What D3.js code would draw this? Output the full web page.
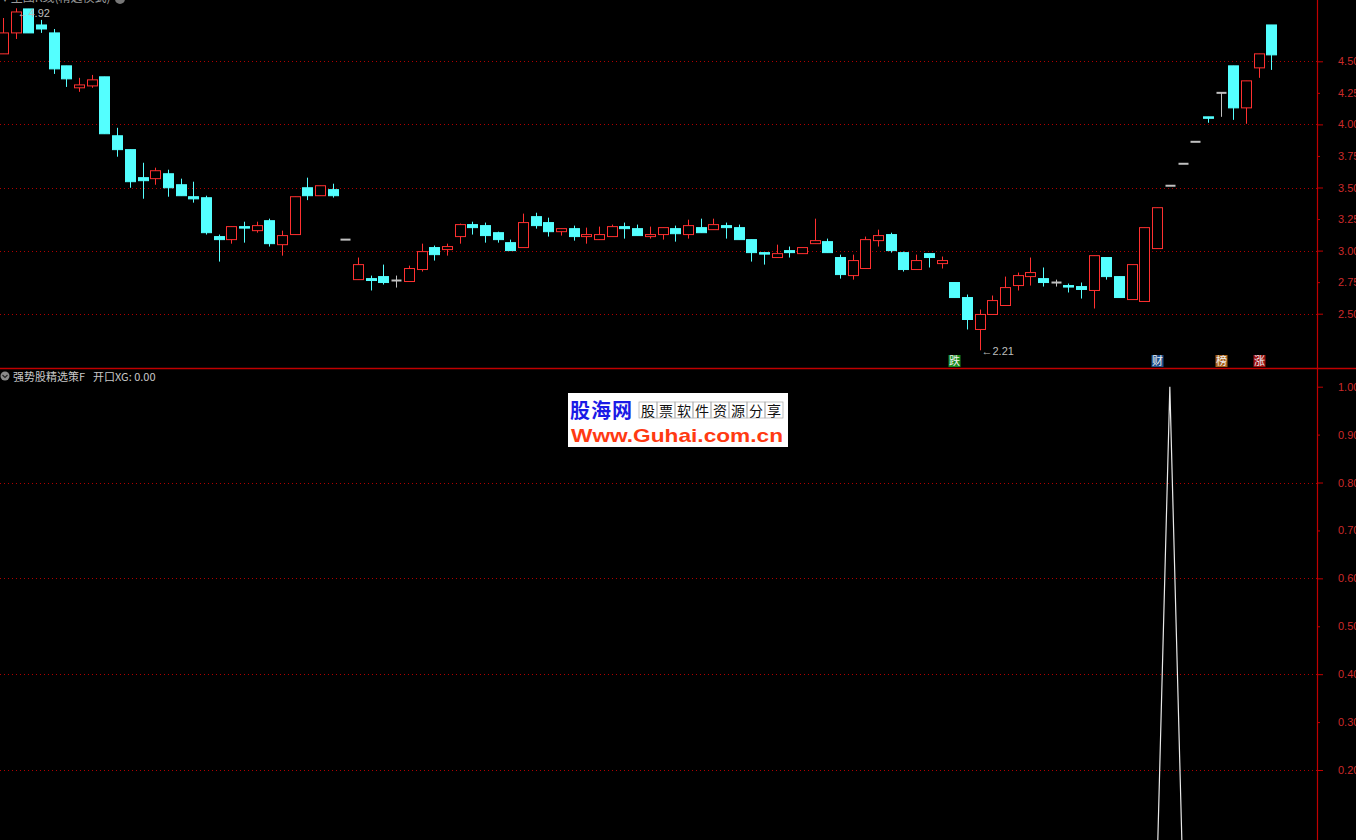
<!DOCTYPE html>
<html><head><meta charset="utf-8">
<script src="https://cdn.jsdelivr.net/npm/d3@7"></script>
<style>html,body{margin:0;padding:0;background:#000;overflow:hidden}svg{display:block}</style>
</head><body>
<script>
// ---- data ----
const openP  = [4.559,4.725,4.915,4.788,4.725,4.464,4.29,4.305,4.377,3.91,3.80,3.578,3.57,3.609,3.522,3.427,3.419,3.111,3.087,3.19,3.158,3.237,3.047,3.127,3.498,3.435,3.483,3.087,2.77,2.778,2.794,2.763,2.755,2.85,3.024,3.008,3.111,3.206,3.198,3.142,3.063,3.024,3.269,3.222,3.15,3.174,3.111,3.087,3.111,3.19,3.174,3.111,3.127,3.174,3.127,3.182,3.166,3.198,3.182,3.087,2.984,2.945,3.0,2.976,3.055,3.071,2.945,2.802,2.858,3.079,3.127,2.984,2.85,2.976,2.897,2.747,2.628,2.375,2.494,2.565,2.723,2.794,2.778,2.747,2.723,2.715,2.684,2.945,2.794,2.612,2.597,3.016,3.514,3.688,3.862,4.06,4.25,4.464,4.131,4.448,4.788];
const highP  = [4.843,4.92,4.915,4.828,4.756,4.464,4.369,4.392,4.377,3.973,3.80,3.696,3.657,3.641,3.57,3.546,3.435,3.127,3.19,3.229,3.229,3.253,3.158,3.427,3.578,3.514,3.53,3.087,2.945,2.802,2.889,2.802,2.881,3.055,3.04,3.055,3.214,3.229,3.222,3.15,3.087,3.293,3.30,3.261,3.174,3.198,3.182,3.19,3.206,3.222,3.206,3.19,3.182,3.198,3.245,3.253,3.253,3.222,3.206,3.087,2.984,3.047,3.032,3.024,3.253,3.095,2.968,2.968,3.111,3.166,3.142,2.992,2.968,2.976,2.953,2.747,2.652,2.533,2.644,2.794,2.826,2.945,2.866,2.77,2.739,2.747,2.96,2.945,2.794,2.889,3.182,3.34,3.514,3.688,3.862,4.06,4.25,4.464,4.345,4.559,4.788];
const lowP   = [4.559,4.677,4.725,4.725,4.40,4.297,4.258,4.29,3.926,3.744,3.498,3.411,3.522,3.427,3.435,3.38,3.127,2.913,3.055,3.063,3.142,3.032,2.96,3.127,3.40,3.435,3.42,3.087,2.77,2.684,2.731,2.707,2.755,2.834,2.921,2.96,3.055,3.127,3.063,3.063,3.0,3.024,3.174,3.111,3.119,3.079,3.055,3.087,3.111,3.095,3.119,3.095,3.087,3.071,3.095,3.142,3.166,3.095,3.087,2.913,2.889,2.945,2.945,2.976,3.055,2.984,2.778,2.77,2.858,3.032,2.984,2.834,2.85,2.866,2.858,2.628,2.375,2.21,2.494,2.565,2.684,2.723,2.715,2.715,2.668,2.62,2.541,2.77,2.628,2.612,2.597,3.016,3.514,3.688,3.862,4.013,4.06,4.036,4.005,4.369,4.432];
const closeP = [4.725,4.891,4.725,4.756,4.44,4.361,4.313,4.353,3.926,3.80,3.546,3.554,3.633,3.498,3.435,3.41,3.142,3.087,3.19,3.182,3.198,3.055,3.119,3.427,3.435,3.514,3.435,3.087,2.889,2.763,2.747,2.763,2.858,2.992,2.968,3.032,3.206,3.182,3.119,3.087,3.0,3.222,3.198,3.15,3.174,3.111,3.127,3.127,3.19,3.174,3.119,3.127,3.182,3.134,3.198,3.142,3.206,3.182,3.087,2.984,2.976,2.976,2.984,3.024,3.079,2.984,2.81,2.921,3.087,3.119,3.0,2.85,2.921,2.945,2.921,2.628,2.454,2.494,2.604,2.707,2.802,2.826,2.747,2.747,2.715,2.692,2.96,2.794,2.628,2.889,3.182,3.34,3.514,3.688,3.862,4.055,4.25,4.131,4.345,4.559,4.551];
// XG signal (lower panel)
const xgValues = [0,0,0,0,0,0,0,0,0,0,0,0,0,0,0,0,0,0,0,0,0,0,0,0,0,0,0,0,0,0,0,0,0,0,0,0,0,0,0,0,0,0,0,0,0,0,0,0,0,0,0,0,0,0,0,0,0,0,0,0,0,0,0,0,0,0,0,0,0,0,0,0,0,0,0,0,0,0,0,0,0,0,0,0,0,0,0,0,0,0,0,0,1,0,0,0,0,0,0,0,0];
// tick labels
const priceTicks = [2.50,2.75,3.00,3.25,3.50,3.75,4.00,4.25,4.50];
const priceGrid  = [2.50,3.00,3.50,4.00,4.50];
const xgTicks = [0.20,0.30,0.40,0.50,0.60,0.70,0.80,0.90,1.00];
const xgGrid  = [0.20,0.40,0.60,0.80];
// markers under price panel
const markIdx = [75,91,96,99];
const markText = ["跌","财","榜","涨"];
const markColor = ["#178a1e","#1d4f8c","#a8621a","#9c1010"];
const highLabel = {idx:1, text:"4.92"};
const lowLabel = {idx:77, text:"2.21"};

const W=1356,H=840, AX=1317;
const svg=d3.select("body").append("svg").attr("width",W).attr("height",H).style("background","#000");
const x=d3.scaleLinear().domain([0,100]).range([3,1271.3]);
const y=d3.scaleLinear().domain([2.5,4.5]).range([313.7,61.3]);
const y2=d3.scaleLinear().domain([0.2,1.0]).range([770,386.7]);
const RED="#ff3030", CYAN="#54ffff", GRAY="#c0c0c0", AXC="#c00000", LBL="#cc2a2a";

const defs=svg.append("defs");
defs.append("clipPath").attr("id","cTop").append("rect").attr("x",0).attr("y",0).attr("width",AX).attr("height",368);
defs.append("clipPath").attr("id","cBot").append("rect").attr("x",0).attr("y",369).attr("width",AX).attr("height",H-369);
const topG=svg.append("g");

// grid lines
topG.selectAll("line.g").data(priceGrid).enter().append("line")
  .attr("x1",0).attr("x2",AX).attr("y1",d=>Math.round(y(d))+0.5).attr("y2",d=>Math.round(y(d))+0.5)
  .attr("stroke","#b00000").attr("stroke-dasharray","1,3");
svg.selectAll("line.g2").data(xgGrid).enter().append("line")
  .attr("x1",0).attr("x2",AX).attr("y1",d=>Math.round(y2(d))+0.5).attr("y2",d=>Math.round(y2(d))+0.5)
  .attr("stroke","#b00000").attr("stroke-dasharray","1,3");

// candles
const idx=d3.range(openP.length);
const cg=topG.append("g").attr("clip-path","url(#cTop)");
const col=i=> closeP[i]>openP[i]?RED:(closeP[i]<openP[i]?CYAN:GRAY);
const cx=i=>Math.round(x(i))+0.5;
cg.selectAll("line.w").data(idx).enter().append("line")
  .attr("x1",cx).attr("x2",cx).attr("y1",i=>y(highP[i])).attr("y2",i=>y(lowP[i]))
  .attr("stroke",col).attr("stroke-width",1);
cg.selectAll("rect.b").data(idx.filter(i=>closeP[i]!==openP[i])).enter().append("rect")
  .attr("x",i=>cx(i)-5).attr("width",10)
  .attr("y",i=>y(Math.max(openP[i],closeP[i])))
  .attr("height",i=>Math.max(1.5,Math.abs(y(openP[i])-y(closeP[i]))))
  .attr("fill",i=>closeP[i]>openP[i]?"#000":CYAN)
  .attr("stroke",col).attr("stroke-width",1);
cg.selectAll("line.f").data(idx.filter(i=>closeP[i]===openP[i])).enter().append("line")
  .attr("x1",i=>cx(i)-5).attr("x2",i=>cx(i)+5).attr("y1",i=>y(openP[i])).attr("y2",i=>y(openP[i]))
  .attr("stroke",GRAY).attr("stroke-width",2);

// high / low labels
topG.append("text").attr("x",cx(highLabel.idx)+1).attr("y",y(highP[highLabel.idx])+9)
  .attr("fill","#bdbdbd").attr("font-family","Liberation Sans, Arial").attr("font-size",11)
  .text("←"+highLabel.text);
topG.append("text").attr("x",cx(lowLabel.idx)+1).attr("y",y(lowP[lowLabel.idx])+5)
  .attr("fill","#bdbdbd").attr("font-family","Liberation Sans, Arial").attr("font-size",11)
  .text("←"+lowLabel.text);

// markers
const mg=topG.selectAll("g.m").data(markIdx).enter().append("g");
mg.append("rect").attr("x",i=>cx(i)-6).attr("y",355).attr("width",12).attr("height",12)
  .attr("fill",(d,k)=>markColor[k]);
mg.append("text").attr("x",i=>cx(i)).attr("y",365).attr("text-anchor","middle")
  .attr("fill","#f0f0f0").attr("font-family","Noto Sans CJK SC").attr("font-size",11)
  .text((d,k)=>markText[k]);

// top title (cut off at top edge, as in the reference)
svg.append("text").attr("x",2).attr("y",2).attr("fill","#9a9a9a").attr("font-family","Noto Sans CJK SC").attr("font-size",12)
  .text("▾ 主图K线(精选模式)");
svg.append("circle").attr("cx",120).attr("cy",-1).attr("r",5).attr("fill","#777");

// lower panel XG line
const bg=svg.append("g").attr("clip-path","url(#cBot)");
bg.append("path").datum(idx).attr("fill","none").attr("stroke","#e8e8e8").attr("stroke-width",1.2)
  .attr("d",d3.line().x(i=>x(i)).y(i=>y2(xgValues[i])));

// lower title
svg.append("circle").attr("cx",5).attr("cy",376).attr("r",4.5).attr("fill","#8a8a8a");
svg.append("path").attr("d","M2.5,375 L5,377.5 L7.5,375").attr("stroke","#222").attr("fill","none").attr("stroke-width",1.2);
svg.append("text").attr("x",13).attr("y",381).attr("fill","#c8c8c8").attr("font-family","Noto Sans CJK SC").attr("font-size",11)
  .text("强势股精选策F");
svg.append("text").attr("x",93).attr("y",381).attr("fill","#c8c8c8").attr("font-family","Noto Sans CJK SC").attr("font-size",11)
  .text("开口XG: 0.00");

// separator & axis line
svg.append("line").attr("x1",0).attr("x2",W).attr("y1",368.5).attr("y2",368.5).attr("stroke",AXC).attr("stroke-width",1.5);
svg.append("line").attr("x1",AX+0.5).attr("x2",AX+0.5).attr("y1",0).attr("y2",H).attr("stroke",AXC).attr("stroke-width",1.2);

// axes
function styleAxis(g, majors){
  g.select(".domain").remove();
  g.selectAll(".tick line").attr("stroke",AXC).attr("x2",d=>majors.some(m=>Math.abs(m-d)<1e-6)?6:3);
  g.selectAll(".tick text").attr("x",21).attr("fill",LBL).attr("font-family","Liberation Sans, Arial").attr("font-size",11);
}
const ax1=svg.append("g").attr("transform",`translate(${AX},0)`)
  .call(d3.axisRight(y).tickValues(priceTicks).tickFormat(d3.format(".2f")));
styleAxis(ax1, priceGrid);
const ax2=svg.append("g").attr("transform",`translate(${AX},0)`)
  .call(d3.axisRight(y2).tickValues(xgTicks).tickFormat(d3.format(".2f")));
styleAxis(ax2, [0.2,0.4,0.6,0.8,1.0]);

// watermark
const wm=svg.append("g");
wm.append("rect").attr("x",568).attr("y",393).attr("width",220).attr("height",54).attr("fill","#fff");
wm.append("text").attr("x",570).attr("y",418).attr("fill","#1a1ae6").attr("font-family","Noto Sans CJK SC").attr("font-weight","bold").attr("font-size",20)
  .attr("textLength",62).text("股海网");
const chars="股票软件资源分享".split("");
wm.selectAll("rect.c").data(chars).enter().append("rect")
  .attr("x",(d,i)=>639+i*18).attr("y",402).attr("width",18).attr("height",16)
  .attr("fill","none").attr("stroke","#aaa").attr("stroke-width",0.7);
wm.selectAll("text.c").data(chars).enter().append("text")
  .attr("x",(d,i)=>648+i*18).attr("y",415.5).attr("text-anchor","middle")
  .attr("fill","#111").attr("font-family","Noto Sans CJK SC").attr("font-size",14).text(d=>d);
wm.append("text").attr("x",571).attr("y",442).attr("fill","#ff3a12").attr("font-family","Liberation Sans, Arial").attr("font-weight","bold").attr("font-size",19)
  .attr("textLength",212).attr("lengthAdjust","spacingAndGlyphs").text("Www.Guhai.com.cn");
</script>
</body></html>
